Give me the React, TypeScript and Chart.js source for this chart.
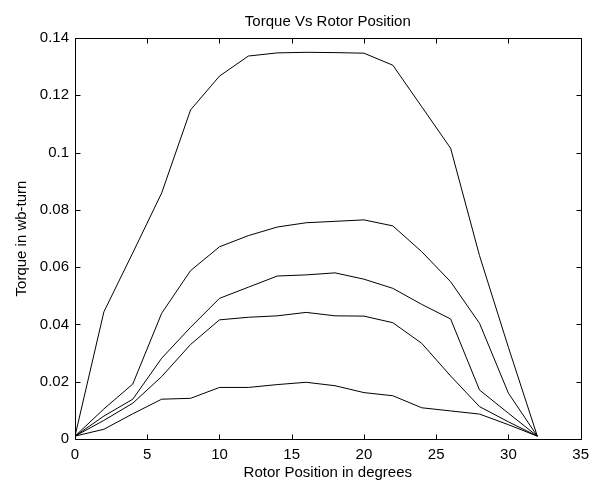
import React, { useEffect, useRef } from "react";
import { Chart, registerables } from "chart.js";

Chart.register(...registerables);

const chartTitle = "Torque Vs Rotor Position";
const xAxisTitle = "Rotor Position in degrees";
const yAxisTitle = "Torque in wb-turn";

const rotorPosition = [0, 2, 4, 6, 8, 10, 12, 14, 16, 18, 20, 22, 24, 26, 28, 30, 32];

const torqueA = [0.001, 0.0444, 0.065, 0.0859, 0.1149, 0.1267, 0.1337, 0.1348, 0.135, 0.1349, 0.1347, 0.1305, 0.116, 0.1015, 0.064, 0.032, 0.001];
const torqueB = [0.001, 0.0105, 0.0192, 0.0439, 0.0588, 0.0671, 0.071, 0.074, 0.0755, 0.076, 0.0765, 0.0744, 0.0654, 0.0549, 0.0404, 0.016, 0.001];
const torqueC = [0.001, 0.008, 0.0139, 0.0282, 0.039, 0.0491, 0.053, 0.0569, 0.0573, 0.058, 0.0558, 0.0526, 0.047, 0.0419, 0.0171, 0.009, 0.001];
const torqueD = [0.001, 0.0065, 0.0125, 0.0218, 0.033, 0.0416, 0.0425, 0.043, 0.0442, 0.043, 0.0429, 0.0406, 0.0334, 0.022, 0.0113, 0.006, 0.001];
const torqueE = [0.001, 0.0034, 0.0088, 0.0139, 0.0142, 0.018, 0.018, 0.019, 0.0198, 0.0186, 0.0162, 0.0151, 0.0109, 0.0098, 0.0087, 0.005, 0.001];

const seriesList = [torqueA, torqueB, torqueC, torqueD, torqueE];

const xTickLabels = ["0", "5", "10", "15", "20", "25", "30", "35"];
const yTickLabels = ["0", "0.02", "0.04", "0.06", "0.08", "0.1", "0.12", "0.14"];

const FONT = "'Liberation Sans', Arial, Helvetica, sans-serif";

const boxPlugin = {
  id: "matlabBox",
  afterDraw(chart: any) {
    const { ctx, chartArea, scales } = chart;
    const L = Math.round(chartArea.left) + 0.5;
    const R = Math.round(chartArea.right) + 0.5;
    const T = Math.round(chartArea.top) + 0.5;
    const B = Math.round(chartArea.bottom) + 0.5;
    const tl = 5;
    ctx.save();
    ctx.strokeStyle = "#000";
    ctx.lineWidth = 1;
    ctx.beginPath();
    ctx.rect(L, T, R - L, B - T);
    ctx.stroke();
    ctx.beginPath();
    scales.x.ticks.forEach((t: any) => {
      const px = Math.round(scales.x.getPixelForValue(t.value)) + 0.5;
      ctx.moveTo(px, B);
      ctx.lineTo(px, B - tl);
      ctx.moveTo(px, T);
      ctx.lineTo(px, T + tl);
    });
    scales.y.ticks.forEach((t: any) => {
      const py = Math.round(scales.y.getPixelForValue(t.value)) + 0.5;
      ctx.moveTo(L, py);
      ctx.lineTo(L + tl, py);
      ctx.moveTo(R, py);
      ctx.lineTo(R - tl, py);
    });
    ctx.stroke();
    // title centred over the plot area, as in the reference
    ctx.fillStyle = "#000";
    ctx.font = `15px ${FONT}`;
    ctx.textAlign = "center";
    ctx.textBaseline = "middle";
    ctx.fillText(chartTitle, (chartArea.left + chartArea.right) / 2, 22);
    ctx.restore();
  },
};

export default function App() {
  const canvasRef = useRef<HTMLCanvasElement | null>(null);

  useEffect(() => {
    if (!canvasRef.current) return;
    const chart = new Chart(canvasRef.current, {
      type: "line",
      data: {
        datasets: seriesList.map((s) => ({
          data: rotorPosition.map((x, i) => ({ x, y: s[i] })),
          borderColor: "#000",
          borderWidth: 1,
          pointRadius: 0,
          tension: 0,
          fill: false,
        })),
      },
      options: {
        responsive: false,
        animation: false,
        layout: { padding: { left: 0, right: 13, top: 38, bottom: 0 } },
        plugins: {
          legend: { display: false },
          tooltip: { enabled: false },
          title: { display: false },
        },
        scales: {
          x: {
            type: "linear",
            min: 0,
            max: 35,
            grid: { display: false, drawTicks: false },
            border: { display: false },
            ticks: {
              stepSize: 5,
              color: "#000",
              padding: 7,
              maxRotation: 0,
              font: { family: FONT, size: 15 },
              callback: (_v: any, i: number) => xTickLabels[i],
            },
            title: {
              display: true,
              text: xAxisTitle,
              color: "#000",
              font: { family: FONT, size: 15 },
              padding: { top: 0, bottom: -2 },
            },
            afterFit: (s: any) => {
              s.height = 41;
            },
          },
          y: {
            type: "linear",
            min: 0,
            max: 0.14,
            grid: { display: false, drawTicks: false },
            border: { display: false },
            ticks: {
              stepSize: 0.02,
              color: "#000",
              padding: 6,
              font: { family: FONT, size: 15 },
              callback: (_v: any, i: number) => yTickLabels[i],
            },
            title: {
              display: true,
              text: yAxisTitle,
              color: "#000",
              font: { family: FONT, size: 15 },
              padding: { top: 13, bottom: 0 },
            },
            afterFit: (s: any) => {
              s.width = 75;
            },
          },
        },
      },
      plugins: [boxPlugin],
    });
    return () => chart.destroy();
  }, []);

  return (
    <div style={{ position: "absolute", left: 0, top: 0, width: 596, height: 480, background: "#fff" }}>
      <canvas ref={canvasRef} width={596} height={480} style={{ display: "block" }} />
    </div>
  );
}
